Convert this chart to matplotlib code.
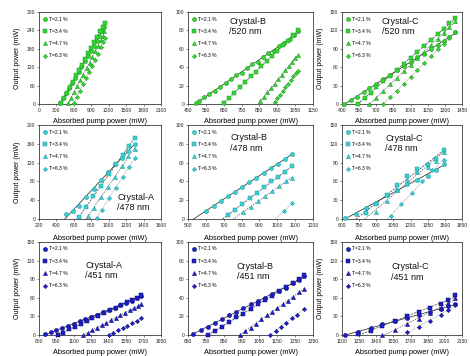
import numpy as np
import matplotlib
matplotlib.use('Agg')
import matplotlib.pyplot as plt
from matplotlib.transforms import Bbox, TransformedBbox

plt.rcParams['font.family'] = ['Liberation Sans', 'DejaVu Sans']

# ---------------- data ----------------
series_labels = ["T=2.1 %", "T=3.4 %", "T=4.7 %", "T=6.3 %"]

# Crystal-A / 520 nm
a520_x21 = [370, 420, 470, 520, 570, 620, 680, 730, 790, 840, 890, 940, 990, 1040, 1090, 1120]
a520_y21 = [3, 18, 35, 52, 68, 85, 105, 122, 140, 157, 172, 190, 207, 222, 238, 250]
a520_x34 = [380, 430, 480, 530, 580, 640, 690, 740, 800, 850, 900, 950, 1000, 1050, 1100, 1130]
a520_y34 = [2, 20, 37, 55, 73, 93, 110, 128, 148, 166, 184, 202, 220, 237, 252, 265]
a520_x47 = [500, 550, 600, 660, 710, 760, 820, 870, 920, 970, 1020, 1070, 1100, 1120]
a520_y47 = [3, 20, 38, 60, 78, 96, 117, 135, 153, 172, 190, 208, 222, 238]
a520_x63 = [600, 650, 700, 760, 810, 860, 910, 960, 1010, 1060, 1100, 1130]
a520_y63 = [2, 22, 42, 64, 85, 105, 125, 145, 163, 185, 202, 215]

# Crystal-B / 520 nm
b520_x21 = [495, 510, 540, 570, 600, 630, 660, 690, 720, 750, 780, 810, 840, 870, 900, 930, 960, 990, 1020, 1045, 1065]
b520_y21 = [1, 3, 8, 11, 14, 19, 23, 27, 31, 34, 39, 43, 46, 51, 55, 58, 63, 66, 71, 75, 79]
b520_x34 = [650, 680, 710, 740, 770, 800, 830, 860, 890, 920, 950, 980, 1010, 1040, 1065]
b520_y34 = [1, 7, 12, 18, 24, 30, 35, 41, 47, 52, 58, 64, 69, 75, 80]
b520_x47 = [855, 875, 895, 915, 935, 955, 975, 995, 1015, 1035, 1050, 1065]
b520_y47 = [3, 8, 13, 17, 22, 27, 32, 37, 41, 46, 50, 53]
b520_x63 = [935, 950, 965, 980, 995, 1010, 1025, 1040, 1055, 1065]
b520_y63 = [2, 6, 10, 14, 18, 22, 26, 30, 34, 36]

# Crystal-C / 520 nm
c520_x21 = [420, 480, 530, 590, 640, 700, 760, 820, 880, 940, 1000, 1060, 1120, 1180, 1240, 1290, 1340, 1390]
c520_y21 = [0, 6, 12, 20, 26, 33, 40, 47, 55, 62, 68, 76, 82, 89, 96, 103, 110, 117]
c520_x34 = [540, 600, 650, 700, 760, 820, 880, 940, 1000, 1060, 1120, 1180, 1240, 1290, 1340, 1390]
c520_y34 = [0, 10, 18, 28, 37, 46, 56, 66, 75, 85, 95, 104, 114, 122, 132, 140]
c520_x47 = [640, 700, 760, 820, 880, 940, 1000, 1060, 1120, 1180, 1240, 1290, 1340, 1390]
c520_y47 = [0, 10, 21, 32, 43, 54, 64, 75, 85, 96, 106, 116, 126, 135]
c520_x63 = [760, 820, 880, 940, 1000, 1060, 1120, 1180, 1240, 1290, 1340, 1390]
c520_y63 = [0, 11, 22, 33, 44, 56, 67, 78, 89, 98, 108, 117]

# Crystal-A / 478 nm
a478_x21 = [510, 590, 660, 740, 830, 910, 990, 1070, 1150, 1220, 1300]
a478_y21 = [10, 18, 28, 46, 63, 82, 99, 116, 130, 145, 160]
a478_x34 = [660, 740, 820, 910, 1000, 1080, 1160, 1230, 1300]
a478_y34 = [4, 26, 48, 70, 95, 117, 137, 155, 172]
a478_x47 = [760, 830, 910, 990, 1070, 1150, 1220, 1300]
a478_y47 = [6, 24, 46, 68, 90, 112, 133, 150]
a478_x63 = [860, 920, 1000, 1080, 1160, 1230, 1300]
a478_y63 = [2, 20, 44, 67, 89, 110, 130]

# Crystal-B / 478 nm
b478_x21 = [603, 643, 683, 723, 763, 803, 843, 883, 923, 963, 1003, 1043, 1085]
b478_y21 = [9, 14, 19, 24, 29, 34, 39, 44, 49, 54, 59, 64, 69]
b478_x34 = [725, 765, 805, 845, 885, 925, 965, 1005, 1045, 1085]
b478_y34 = [4, 10, 16, 22, 28, 34, 40, 45, 50, 56]
b478_x47 = [810, 850, 890, 930, 970, 1010, 1050, 1085]
b478_y47 = [7, 13, 19, 24, 30, 35, 40, 44]
b478_x63 = [1035, 1085]
b478_y63 = [8, 17]

# Crystal-C / 478 nm
c478_x21 = [630, 720, 810, 900, 990, 1080, 1170, 1260, 1350, 1420, 1490]
c478_y21 = [1, 8, 18, 26, 38, 47, 56, 63, 69, 78, 87]
c478_x34 = [810, 900, 990, 1080, 1170, 1260, 1350, 1420, 1490]
c478_y34 = [10, 24, 38, 54, 69, 80, 86, 96, 110]
c478_x47 = [900, 990, 1080, 1170, 1260, 1350, 1420, 1490]
c478_y47 = [11, 29, 47, 62, 75, 83, 93, 107]
c478_x63 = [1030, 1120, 1210, 1300, 1390, 1490]
c478_y63 = [5, 24, 42, 60, 78, 94]

# Crystal-A / 451 nm
a451_x21 = [850, 900, 950, 1000, 1050, 1100, 1150, 1200, 1250, 1300, 1350, 1400, 1450, 1500, 1550, 1600, 1640, 1680]
a451_y21 = [1, 5, 8, 11, 15, 18, 22, 26, 29, 33, 37, 40, 44, 48, 51, 55, 59, 63]
a451_x34 = [960, 1010, 1060, 1110, 1160, 1210, 1260, 1310, 1360, 1410, 1460, 1510, 1560, 1600, 1640, 1680]
a451_y34 = [0, 4, 9, 13, 18, 22, 27, 31, 36, 40, 44, 49, 53, 57, 60, 64]
a451_x47 = [1180, 1220, 1260, 1300, 1340, 1380, 1420, 1460, 1500, 1540, 1580, 1620, 1650, 1680]
a451_y47 = [0, 4, 8, 12, 16, 20, 24, 28, 32, 36, 40, 44, 47, 50]
a451_x63 = [1400, 1440, 1480, 1520, 1560, 1600, 1640, 1680]
a451_y63 = [0, 4, 8, 12, 15, 19, 23, 27]

# Crystal-B / 451 nm
b451_x21 = [680, 720, 760, 800, 840, 880, 920, 960, 1000, 1040, 1080, 1120, 1160, 1200, 1240, 1270, 1300]
b451_y21 = [1, 5, 9, 13, 17, 21, 25, 29, 33, 37, 40, 44, 47, 51, 56, 59, 63]
b451_x34 = [760, 800, 840, 880, 920, 960, 1000, 1040, 1080, 1120, 1160, 1200, 1240, 1270, 1300]
b451_y34 = [0, 4, 9, 14, 19, 23, 28, 33, 38, 42, 47, 52, 56, 60, 64]
b451_x47 = [940, 970, 1000, 1030, 1060, 1090, 1120, 1150, 1180, 1210, 1240, 1270, 1300]
b451_y47 = [0, 4, 8, 12, 17, 21, 25, 29, 33, 37, 41, 46, 50]
b451_x63 = [1110, 1140, 1170, 1200, 1230, 1260, 1300]
b451_y63 = [0, 4, 9, 13, 18, 22, 28]

# Crystal-C / 451 nm
c451_x21 = [1130, 1240, 1350, 1450, 1560, 1670, 1770, 1870, 1970, 2030, 2090]
c451_y21 = [0, 5, 11, 17, 23, 28, 33, 37, 42, 46, 50]
c451_x34 = [1240, 1350, 1450, 1560, 1670, 1770, 1870, 1970, 2030, 2090]
c451_y34 = [1, 6, 15, 23, 30, 37, 44, 50, 57, 64]
c451_x47 = [1450, 1560, 1670, 1770, 1870, 1970, 2030, 2090]
c451_y47 = [0, 8, 18, 26, 35, 44, 52, 60]
c451_x63 = [1670, 1770, 1870, 1970, 2030, 2090]
c451_y63 = [5, 13, 23, 32, 40, 49]

# ---------------- layout ----------------
W, H = 470, 356
fig = plt.figure(figsize=(W / 100, H / 100), dpi=100)
fig.patch.set_facecolor('white')

col_px = [(39, 161), (188, 313), (342, 462)]
row_px = [(12, 104), (125, 219), (242, 335)]

green = dict(face='#35d435', edge='#1c9a1c')
cyan = dict(face='#3ccfd2', edge='#1b9aa3')
blue = dict(face='#1e1ec8', edge='#0e0e7a')

panels = [
    # row 0
    dict(r=0, c=0, data=[(a520_x21, a520_y21), (a520_x34, a520_y34), (a520_x47, a520_y47), (a520_x63, a520_y63)],
         xlim=(0, 2100), xt=np.arange(0, 2101, 300), ylim=(0, 300), yt=np.arange(0, 301, 60), col=green, txt=None),
    dict(r=0, c=1, data=[(b520_x21, b520_y21), (b520_x34, b520_y34), (b520_x47, b520_y47), (b520_x63, b520_y63)],
         xlim=(450, 1150), xt=np.arange(450, 1151, 100), ylim=(0, 100), yt=np.arange(0, 101, 20), col=green,
         txt=("Crystal-B\n/520 nm", 0.33, 0.95)),
    dict(r=0, c=2, data=[(c520_x21, c520_y21), (c520_x34, c520_y34), (c520_x47, c520_y47), (c520_x63, c520_y63)],
         xlim=(400, 1450), xt=np.arange(400, 1451, 150), ylim=(0, 150), yt=np.arange(0, 151, 30), col=green,
         txt=("Crystal-C\n/520 nm", 0.33, 0.95)),
    # row 1
    dict(r=1, c=0, data=[(a478_x21, a478_y21), (a478_x34, a478_y34), (a478_x47, a478_y47), (a478_x63, a478_y63)],
         xlim=(200, 1600), xt=np.arange(200, 1601, 200), ylim=(0, 200), yt=np.arange(0, 201, 40), col=cyan,
         txt=("Crystal-A\n/478 nm", 0.64, 0.28)),
    dict(r=1, c=1, data=[(b478_x21, b478_y21), (b478_x34, b478_y34), (b478_x47, b478_y47), (b478_x63, b478_y63)],
         xlim=(500, 1200), xt=np.arange(500, 1201, 100), ylim=(0, 100), yt=np.arange(0, 101, 20), col=cyan,
         txt=("Crystal-B\n/478 nm", 0.34, 0.91)),
    dict(r=1, c=2, data=[(c478_x21, c478_y21), (c478_x34, c478_y34), (c478_x47, c478_y47), (c478_x63, c478_y63)],
         xlim=(600, 1650), xt=np.arange(600, 1651, 150), ylim=(0, 150), yt=np.arange(0, 151, 30), col=cyan,
         txt=("Crystal-C\n/478 nm", 0.36, 0.90)),
    # row 2
    dict(r=2, c=0, data=[(a451_x21, a451_y21), (a451_x34, a451_y34), (a451_x47, a451_y47), (a451_x63, a451_y63)],
         xlim=(800, 1850), xt=np.arange(800, 1851, 150), ylim=(0, 150), yt=np.arange(0, 151, 30), col=blue,
         txt=("Crystal-A\n/451 nm", 0.38, 0.80)),
    dict(r=2, c=1, data=[(b451_x21, b451_y21), (b451_x34, b451_y34), (b451_x47, b451_y47), (b451_x63, b451_y63)],
         xlim=(650, 1350), xt=np.arange(650, 1351, 100), ylim=(0, 100), yt=np.arange(0, 101, 20), col=blue,
         txt=("Crystal-B\n/451 nm", 0.39, 0.79)),
    dict(r=2, c=2, data=[(c451_x21, c451_y21), (c451_x34, c451_y34), (c451_x47, c451_y47), (c451_x63, c451_y63)],
         xlim=(1100, 2150), xt=np.arange(1100, 2151, 150), ylim=(0, 150), yt=np.arange(0, 151, 30), col=blue,
         txt=("Crystal-C\n/451 nm", 0.41, 0.78)),
]

markers = ['o', 's', '^', 'D']
msizes = [3.0, 3.2, 3.0, 2.2]
fit_styles = [('#1a1a1a', '-'), ('#333333', (0, (3, 1.5))), ('#555555', (0, (2, 1.5))), ('#8a8a8a', (0, (1, 1)))]
xlab_off = [14, 15.5, 14]

for p in panels:
    (l, r) = col_px[p['c']]
    (t, b) = row_px[p['r']]
    ax = fig.add_axes([l / W, 1 - b / H, (r - l) / W, (b - t) / H])
    handles = []
    for i, (xs, ys) in enumerate(p['data']):
        xs = np.asarray(xs, float)
        ys = np.asarray(ys, float)
        k, c0 = np.polyfit(xs, ys, 1)
        x0 = max(-c0 / k, p['xlim'][0])
        xl = np.array([x0, xs.max()])
        ax.plot(xl, k * xl + c0, color=fit_styles[i][0], ls=fit_styles[i][1], lw=0.5, zorder=2)
        h, = ax.plot(xs, ys, ls='none', marker=markers[i], ms=msizes[i],
                     mfc=p['col']['face'], mec=p['col']['edge'], mew=0.35, zorder=3, clip_on=False)
        handles.append(h)
    ax.set_xlim(*p['xlim'])
    ax.set_ylim(*p['ylim'])
    ax.set_xticks(p['xt'])
    ax.set_yticks(p['yt'])
    ax.tick_params(direction='out', length=1.5, width=0.4, labelsize=3.6, pad=1.2, colors='#222222')
    for s in ax.spines.values():
        s.set_linewidth(0.6)
        s.set_color('#3a3a3a')
    ax.legend(handles, series_labels, loc='upper left', bbox_to_anchor=(0.0, 1.0), frameon=False,
              fontsize=3.6, handlelength=0.7, handletextpad=0.4, labelspacing=1.45, borderaxespad=0.5,
              borderpad=0.4)
    ax.set_xlabel("Absorbed pump power (mW)", fontsize=5.3)
    ax.xaxis.set_label_coords(0.5, -xlab_off[p['r']] / (b - t))
    yl = ax.set_ylabel("Output power (mW)", fontsize=5.0)
    ax.yaxis.set_label_coords(-18 / (r - l), 0.5)
    clip_left = None
    if p['c'] == 1:
        clip_left = 170
    elif p['c'] == 2 and p['r'] == 1:
        clip_left = 323
    if clip_left is not None:
        bb = Bbox.from_extents(clip_left / W, 1 - b / H, l / W, 1 - t / H)
        yl.set_clip_box(TransformedBbox(bb, fig.transFigure))
        yl.set_clip_on(True)
    if p['txt'] is not None:
        s, tx, ty = p['txt']
        ax.text(tx, ty, s, transform=ax.transAxes, ha='left', va='top', fontsize=6.5,
                linespacing=1.15, color='#111111')

fig.savefig('out.png', dpi=100, facecolor='white')
